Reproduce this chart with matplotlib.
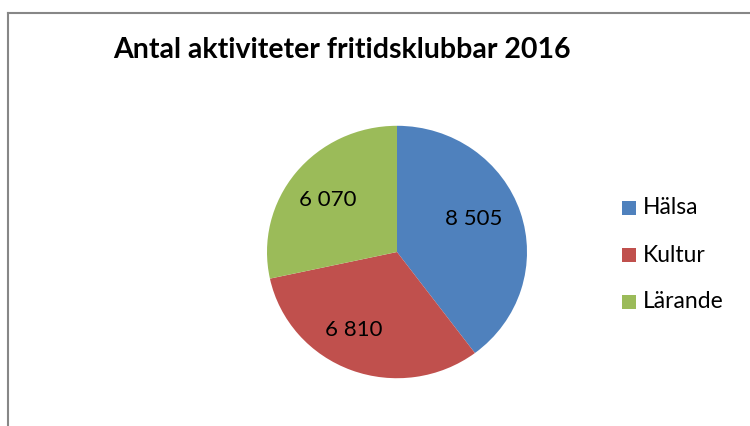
import matplotlib
matplotlib.use('Agg')
import matplotlib.pyplot as plt
from matplotlib.lines import Line2D
from matplotlib.patches import Rectangle
import numpy as np

# data
categories = ['Hälsa', 'Kultur', 'Lärande']
values = [8505, 6810, 6070]
colors = ['#4F81BD', '#C0504D', '#9BBB59']
title = 'Antal aktiviteter fritidsklubbar 2016'

plt.rcParams['font.family'] = ['Lato', 'DejaVu Sans']

W, H = 750, 426
fig = plt.figure(figsize=(W / 100, H / 100), dpi=100)

# frame (only left and top edges are visible in the crop)
fig.add_artist(Line2D([7.5 / W, 7.5 / W], [0, 1 - 13 / H], transform=fig.transFigure,
                      color='#878787', lw=1.5))
fig.add_artist(Line2D([7.5 / W, 1], [1 - 13 / H, 1 - 13 / H], transform=fig.transFigure,
                      color='#878787', lw=1.5))

fig.text(113 / W, 1 - 50 / H, title, fontsize=20.5, fontweight='bold',
         ha='left', va='center', color='black')

# pie axes centred at (397, 252) px
cx, cy, r = 397, 252, 130
ax = fig.add_axes([(cx - r) / W, (H - cy - r) / H, 2 * r / W, 2 * r / H])

wedges = ax.pie(values, colors=colors, startangle=90, counterclock=False,
                radius=1.0, wedgeprops=dict(linewidth=0))[0]
ax.set_xlim(-1, 1)
ax.set_ylim(-1.03, 1.03)
ax.set_aspect('auto')
ax.axis('off')

# value labels inside wedges
offsets = [(-0.04, 0.05), (-0.1, 0.0), (-0.02, 0.0)]
for w, v, off in zip(wedges, values, offsets):
    ang = np.deg2rad((w.theta1 + w.theta2) / 2)
    x = 0.66 * np.cos(ang) + off[0]
    y = 0.66 * np.sin(ang) + off[1]
    ax.text(x, y, f'{v:,}'.replace(',', ' '), ha='center', va='center',
            fontsize=16, color='black')

# legend
for i, (cat, col) in enumerate(zip(categories, colors)):
    ly = 208 + i * 47
    fig.add_artist(Rectangle((622 / W, 1 - (ly + 7) / H), 14 / W, 14 / H,
                             transform=fig.transFigure, facecolor=col, edgecolor='none'))
    fig.text(643 / W, 1 - ly / H, cat, fontsize=16.5, ha='left', va='center', color='black')

fig.savefig('out.png', dpi=100)
